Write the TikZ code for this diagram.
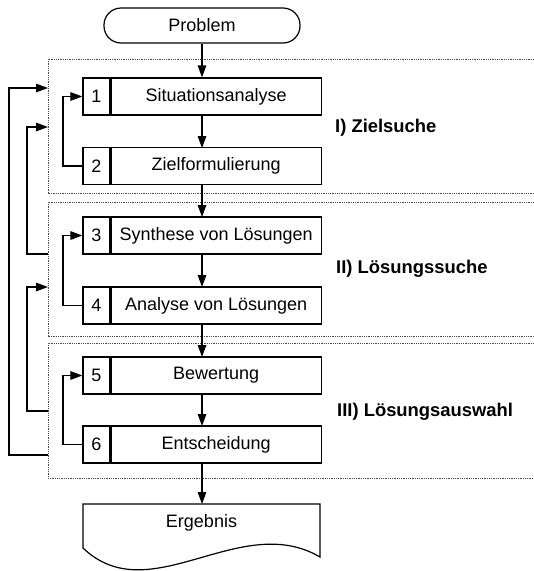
\documentclass[tikz,border=0pt]{standalone}
\usepackage{fontspec}
\setmainfont{Liberation Sans}
\usetikzlibrary{arrows.meta}
\begin{document}
\begin{tikzpicture}[x=1pt,y=-1pt,
  every node/.style={font=\fontsize{18}{21}\selectfont, inner sep=0pt},
  numcell/.style={draw, line width=1.2pt, minimum width=27pt, minimum height=37pt},
  stepcell/.style={draw, line width=1.2pt, minimum width=210pt, minimum height=37pt},
  conn/.style={line width=1.3pt, -{Triangle[length=12pt,width=8.5pt]}},
  phase/.style={draw=black!70, line width=0.8pt, dash pattern=on 1pt off 0.8pt},
  phaselabel/.style={anchor=west, font=\fontsize{18.4}{21}\selectfont\bfseries}
]
\useasboundingbox (0,0) rectangle (534,571);

% phase frames (open to the right)
\coordinate (p1tl) at (48,59);  \coordinate (p1bl) at (48,193);
\coordinate (p2tl) at (48,202); \coordinate (p2bl) at (48,336);
\coordinate (p3tl) at (48,343); \coordinate (p3bl) at (48,478);
\draw[phase] (534,59) -- (p1tl) -- (p1bl) -- (534,193);
\draw[phase] (534,202) -- (p2tl) -- (p2bl) -- (534,336);
\draw[phase] (534,343) -- (p3tl) -- (p3bl) -- (534,478);

% start terminal
\node[draw, line width=1.2pt, rounded corners=17pt, minimum width=196pt, minimum height=35pt] (prob) at (202,25.5) {Problem};

% steps
\node[numcell] (n1) at (96.5,96.5) {1};
\node[stepcell, anchor=west] (s1) at (n1.east) {Situationsanalyse};
\node[numcell] (n2) at (96.5,166) {2};
\node[stepcell, anchor=west] (s2) at (n2.east) {Zielformulierung};
\node[numcell] (n3) at (96.5,235.5) {3};
\node[stepcell, anchor=west] (s3) at (n3.east) {Synthese von Lösungen};
\node[numcell] (n4) at (96.5,305.5) {4};
\node[stepcell, anchor=west] (s4) at (n4.east) {Analyse von Lösungen};
\node[numcell] (n5) at (96.5,375.5) {5};
\node[stepcell, anchor=west] (s5) at (n5.east) {Bewertung};
\node[numcell] (n6) at (96.5,444.5) {6};
\node[stepcell, anchor=west] (s6) at (n6.east) {Entscheidung};

% phase labels
\node[phaselabel] (l1) at (335,128) {I) Zielsuche};
\node[phaselabel] (l2) at (336,269) {II) Lösungssuche};
\node[phaselabel] (l3) at (337,412) {III) Lösungsauswahl};

% result document
\coordinate (ergtop) at (202,504);
\draw[line width=1.2pt] (83,504) -- (320,504) -- (320,557)
  .. controls (240,510) and (150,612) .. (83,548) -- cycle;
\node (erg) at (201.5,523) {Ergebnis};

% main flow
\draw[conn] (prob.south) -- (prob.south |- n1.north);
\draw[conn] (202,115) -- (202,148);
\draw[conn] (202,184) -- (202,217);
\draw[conn] (202,254) -- (202,287);
\draw[conn] (202,324) -- (202,357);
\draw[conn] (202,394) -- (202,426);
\draw[conn] (202,463) -- (ergtop);

% inner feedback loops
\draw[conn] (n2.west) -- (63,166) |- (n1.west);
\draw[conn] (n4.west) -- (63,305.5) |- (n3.west);
\draw[conn] (n6.west) -- (63,444.5) |- (n5.west);

% outer feedback loops
\coordinate (fa) at (48,455); \coordinate (fat) at (48,88);
\coordinate (fb) at (48,254); \coordinate (fbt) at (48,127);
\coordinate (fc) at (48,411); \coordinate (fct) at (48,287);
\draw[conn] (fa) -- (9,455) |- (fat);
\draw[conn] (fb) -- (27,254) |- (fbt);
\draw[conn] (fc) -- (27,411) |- (fct);
\end{tikzpicture}
\end{document}
